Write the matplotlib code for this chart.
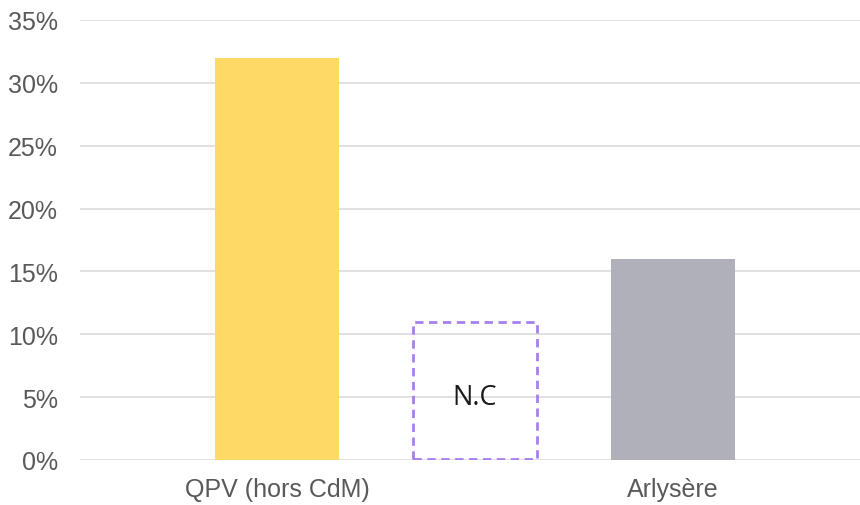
import matplotlib.pyplot as plt
from matplotlib.patches import Rectangle

categories = ['QPV (hors CdM)', '', 'Arlysère']
values = [32, None, 16]
nc_height = 11
colors = ['#FED966', 'none', '#AFB0B9']
yticks = [0, 5, 10, 15, 20, 25, 30, 35]

fig = plt.figure(figsize=(8.6, 5.06), dpi=100)
ax = fig.add_axes([0.093, 0.089, 0.907, 0.8695])

pos = list(range(len(categories)))
width = 0.63
for i, v in enumerate(values):
    if v is not None:
        ax.bar(pos[i], v, width=width, color=colors[i], zorder=2)
    else:
        ax.add_patch(Rectangle((pos[i] - width / 2, 0.1), width, nc_height - 0.1,
                               fill=False, edgecolor='#A580EE', linestyle=(0, (3, 2)),
                               linewidth=2, zorder=3))
        ax.text(pos[i], 5.0, 'N.C', ha='center', va='center',
                fontsize=19.5, color='#1a1a1a', family='Open Sans')

ax.set_xlim(-0.995, 2.944)
ax.set_ylim(0, 35)
ax.set_yticks(yticks)
ax.set_yticklabels([f'{t}%' for t in yticks])
ax.set_xticks(pos)
ax.set_xticklabels(categories)
ax.grid(axis='y', color='#D9D9D9', linewidth=1.1, zorder=0)
ax.set_axisbelow(True)
for s in ax.spines.values():
    s.set_visible(False)
ax.tick_params(length=0, labelsize=18, labelcolor='#595959')
for lab in ax.get_xticklabels() + ax.get_yticklabels():
    lab.set_family('Liberation Sans')
ax.tick_params(axis='y', pad=16)
ax.tick_params(axis='x', pad=12)

fig.savefig('out.png')
